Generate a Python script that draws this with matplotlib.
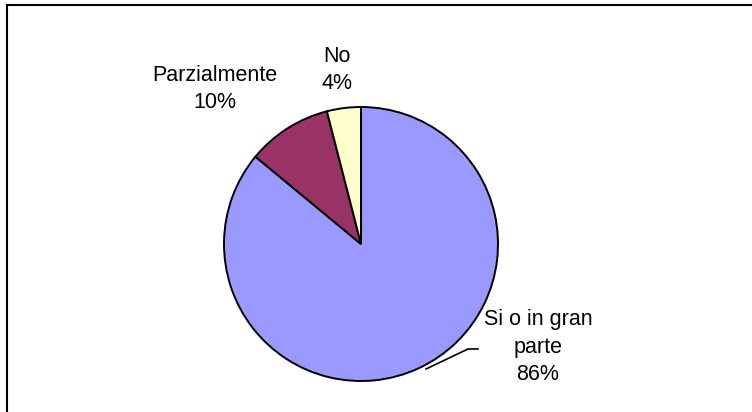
import matplotlib.pyplot as plt
from matplotlib.lines import Line2D

# dati del grafico
risposte = ["Si o in gran\nparte", "Parzialmente", "No"]
percentuali = [86, 10, 4]
colori = ["#9999FF", "#993366", "#FFFFCC"]

W, H = 752, 412
fig = plt.figure(figsize=(W / 100, H / 100), dpi=100)
ax = fig.add_axes([0, 0, 1, 1])

plt.rcParams["font.family"] = ["Liberation Sans", "DejaVu Sans"]

# pie a partire da ore 12, senso orario
cx, cy, r = 361, H - 244, 137
ax.pie(percentuali, colors=colori, startangle=90, counterclock=False,
       center=(cx, cy), radius=r, frame=True,
       wedgeprops=dict(edgecolor="black", linewidth=1.4))
ax.set_xlim(0, W)
ax.set_ylim(0, H)
ax.set_aspect("equal")
ax.axis("off")

# etichette
pos = [(538, H - 347), (215, H - 89), (337, H - 70)]
for nome, v, (x, y) in zip(risposte, percentuali, pos):
    ax.text(x, y, f"{nome}\n{v}%", ha="center", va="center",
            fontsize=15.5, linespacing=1.38, color="black")

# linea di richiamo per la fetta grande
ax.plot([426, 468, 478], [H - 369, H - 349, H - 349], color="black", lw=1.2)

# cornice (solo lati sinistro e superiore visibili)
fig.add_artist(Line2D([7 / W, 7 / W], [0, 1 - 4.5 / H], color="black", lw=1.5,
                      transform=fig.transFigure))
fig.add_artist(Line2D([7 / W, 1], [1 - 4.5 / H, 1 - 4.5 / H], color="black", lw=1.5,
                      transform=fig.transFigure))

fig.savefig("out.png", dpi=100)
